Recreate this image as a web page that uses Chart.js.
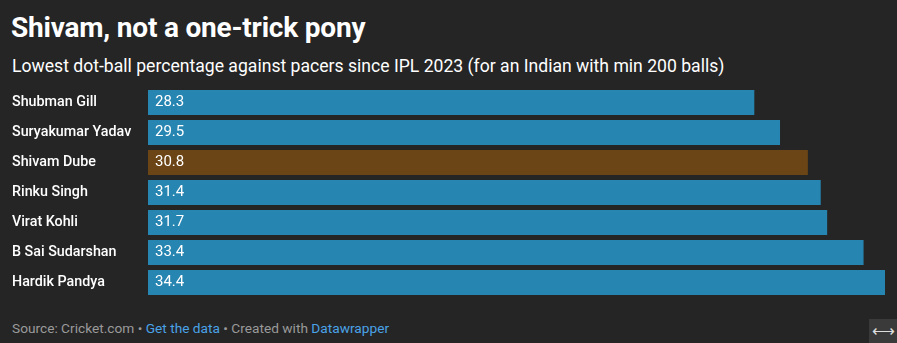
<!DOCTYPE html>
<html>
<head>
<meta charset="utf-8">
<script src="https://cdn.jsdelivr.net/npm/chart.js@4/dist/chart.umd.min.js"></script>
<style>
  html, body { margin: 0; padding: 0; }
  body {
    width: 897px; height: 343px; overflow: hidden; position: relative;
    background: #252525;
    font-family: Roboto, "Noto Sans", sans-serif;
    color: #fff;
  }
  h1 { position: absolute; left: 11px; top: 13px; margin: 0; font-size: 28px; line-height: 30px; font-weight: 700; letter-spacing: -0.2px; }
  .sub { position: absolute; left: 12px; top: 56px; font-size: 17.6px; }
  #wrap { position: absolute; left: 0; top: 85px; width: 897px; height: 215px; }
  .foot { position: absolute; left: 12px; top: 320px; font-size: 13.7px; color: #9a9a9a; }
  .foot a { color: #4aa3e8; text-decoration: none; }
  .expand { position: absolute; left: 869px; top: 319px; width: 28px; height: 24px; background: #3a3a3a; color: #ddd; font-size: 16px; text-align: center; line-height: 24px; }
</style>
</head>
<body>
<h1>Shivam, not a one-trick pony</h1>
<div class="sub">Lowest dot-ball percentage against pacers since IPL 2023 (for an Indian with min 200 balls)</div>
<div id="wrap"><canvas id="chart"></canvas></div>
<div class="foot">Source: Cricket.com • <a>Get the data</a> • Created with <a>Datawrapper</a></div>
<div class="expand">⟷</div>
<script>
const players = ["Shubman Gill", "Suryakumar Yadav", "Shivam Dube", "Rinku Singh", "Virat Kohli", "B Sai Sudarshan", "Hardik Pandya"];
const dotBallPct = [28.3, 29.5, 30.8, 31.4, 31.7, 33.4, 34.4];
const highlight = "Shivam Dube";

const barColors = players.map(p => p === highlight ? "#6b4515" : "#2785b1");

// writes each value just inside the left end of its bar
const valueLabels = {
    id: "valueLabels",
    afterDatasetsDraw(chart) {
        const ctx = chart.ctx;
        const meta = chart.getDatasetMeta(0);
        ctx.save();
        ctx.font = "400 15px Roboto, sans-serif";
        ctx.fillStyle = "#ffffff";
        ctx.textBaseline = "middle";
        meta.data.forEach((bar, i) => {
            ctx.fillText(dotBallPct[i].toFixed(1), bar.base + 7, bar.y);
        });
        ctx.restore();
    }
};

new Chart(document.getElementById("chart"), {
    type: "bar",
    data: {
        labels: players,
        datasets: [{
            data: dotBallPct,
            backgroundColor: barColors,
            borderWidth: 0,
            categoryPercentage: 1,
            barPercentage: 25 / 30
        }]
    },
    options: {
        indexAxis: "y",
        responsive: true,
        maintainAspectRatio: false,
        animation: false,
        layout: { padding: { left: 12, right: 12, top: 2.5, bottom: 2.5 } },
        plugins: { legend: { display: false }, tooltip: { enabled: false } },
        scales: {
            x: { display: false, min: 0, max: 34.4 },
            y: {
                grid: { display: false },
                border: { display: false },
                afterFit(scale) {
                    scale.width = 136;
                    scale.paddingTop = 0;
                    scale.paddingBottom = 0;
                },
                ticks: {
                    crossAlign: "far",
                    padding: 0,
                    color: "#ffffff",
                    font: { family: "Roboto, sans-serif", size: 14.3, weight: 500 }
                }
            }
        }
    },
    plugins: [valueLabels]
});
</script>
</body>
</html>
